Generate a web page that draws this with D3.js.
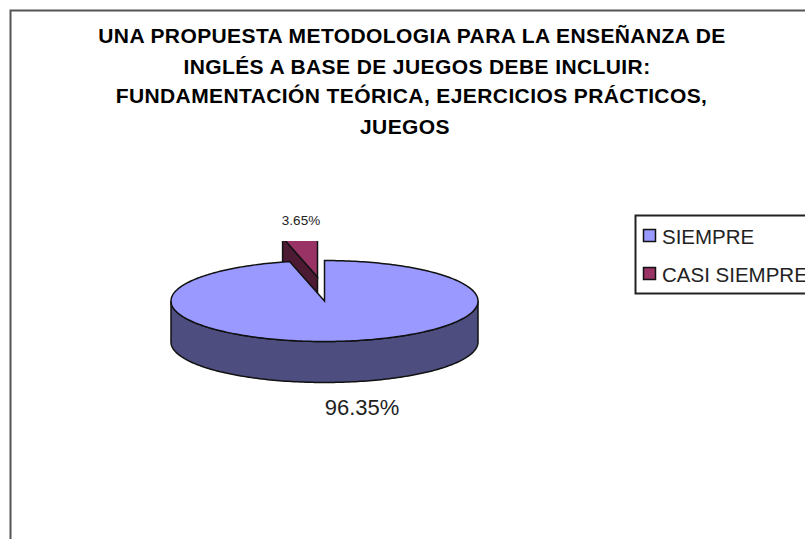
<!DOCTYPE html>
<html>
<head>
<meta charset="utf-8">
<script src="https://d3js.org/d3.v7.min.js"></script>
<style>
html,body{margin:0;padding:0;background:#fff;overflow:hidden;}
text{font-family:"Liberation Sans",Arial,sans-serif;}
</style>
</head>
<body>
<script>
var titleLines=[
	"UNA PROPUESTA METODOLOGIA PARA LA ENSEÑANZA DE",
	"INGLÉS A BASE DE JUEGOS DEBE INCLUIR:",
	"FUNDAMENTACIÓN TEÓRICA, EJERCICIOS PRÁCTICOS,",
	"JUEGOS"
];
var categories=["SIEMPRE","CASI SIEMPRE"];
var values=[96.35,3.65];
var valueLabels=["96.35%","3.65%"];
var topColors=["#9999ff","#993366"];
var sideColors=["#4d4d80","#4d1a33"];

var width=805,height=539;
var cx=324.5,cy=301,rx=153.5,ry=40.5,depth=41;
var explodeSlice={dx:-7,dy:-24};

var svg=d3.select("body").append("svg").attr("width",width).attr("height",height);

//chart frame, runs off the right and bottom of the picture
svg.append("rect").attr("x",10.5).attr("y",10.5).attr("width",width+20).attr("height",height+20)
	.attr("fill","#fff").attr("stroke","#555").attr("stroke-width",2);

svg.selectAll(".title").data(titleLines).enter().append("text")
	.attr("class","title")
	.attr("x",function(d,i){return [412,417,411.5,405][i];})
	.attr("y",function(d,i){return [43,74,103,134][i];})
	.attr("text-anchor","middle")
	.attr("font-size",21)
	.attr("font-weight","bold")
	.attr("letter-spacing",0.4)
	.attr("fill","#000")
	.text(function(d){return d;});

//pie angles, clockwise from 12 o'clock
var slices=d3.pie().sort(null)(values);

//project an angle on the flattened ellipse
var px=d3.scaleLinear().domain([-1,1]).range([cx-rx,cx+rx]);
var py=d3.scaleLinear().domain([-1,1]).range([cy-ry,cy+ry]);
var line=d3.line();

function rim(a0,a1,dy){
	var pts=[],n=Math.max(2,Math.ceil(Math.abs(a1-a0)/0.02));
	for(var i=0;i<=n;i++){
		var a=a0+(a1-a0)*i/n;
		pts.push([px(Math.sin(a)),py(-Math.cos(a))+dy]);
	}
	return pts;
}

function topFace(s){
	return line([[cx,cy]].concat(rim(s.startAngle,s.endAngle,0)))+"Z";
}

svg.append("clipPath").attr("id","plot").append("rect")
	.attr("x",0).attr("y",241).attr("width",width).attr("height",height);

//exploded slice goes first, the big slice covers its lower part
var small=slices[1],big=slices[0];
var gs=svg.append("g").attr("clip-path","url(#plot)")
	.append("g").attr("transform","translate("+explodeSlice.dx+","+explodeSlice.dy+")");
var sp=[px(Math.sin(small.startAngle)),py(-Math.cos(small.startAngle))];
gs.append("path")
	.attr("d",line([sp,[cx,cy],[cx,cy+depth],[sp[0],sp[1]+depth]])+"Z")
	.attr("fill",sideColors[1]).attr("stroke","#111").attr("stroke-width",1.5);
gs.append("path").attr("d",topFace(small))
	.attr("fill",topColors[1]).attr("stroke","#111").attr("stroke-width",1.5);

//side wall, front half of the big slice
var front=rim(Math.PI/2,Math.PI*1.5,0);
var back=rim(Math.PI*1.5,Math.PI/2,depth);
svg.append("path").attr("d",line(front.concat(back))+"Z")
	.attr("fill",sideColors[0]).attr("stroke","#111").attr("stroke-width",1.5);

svg.append("path").attr("d",topFace(big))
	.attr("fill",topColors[0]).attr("stroke","#111").attr("stroke-width",1.5);

//value labels
svg.append("text").attr("x",362).attr("y",415).attr("text-anchor","middle")
	.attr("font-size",22).attr("fill","#222").text(valueLabels[0]);
svg.append("text").attr("x",301).attr("y",225).attr("text-anchor","middle")
	.attr("font-size",13.5).attr("fill","#222").text(valueLabels[1]);

//legend, box is cut by the picture edge
svg.append("rect").attr("x",635.5).attr("y",215.5).attr("width",200).attr("height",78)
	.attr("fill","#fff").attr("stroke","#222").attr("stroke-width",2);
var lg=svg.selectAll(".lg").data(categories).enter().append("g")
	.attr("class","lg")
	.attr("transform",function(d,i){return "translate(643,"+(229+i*38)+")";});
lg.append("rect").attr("x",0.5).attr("y",0.5).attr("width",12).attr("height",12)
	.attr("fill",function(d,i){return topColors[i];})
	.attr("stroke","#111").attr("stroke-width",1.5);
lg.append("text").attr("x",19).attr("y",15).attr("font-size",20.5).attr("fill","#222")
	.text(function(d){return d;});
</script>
</body>
</html>
